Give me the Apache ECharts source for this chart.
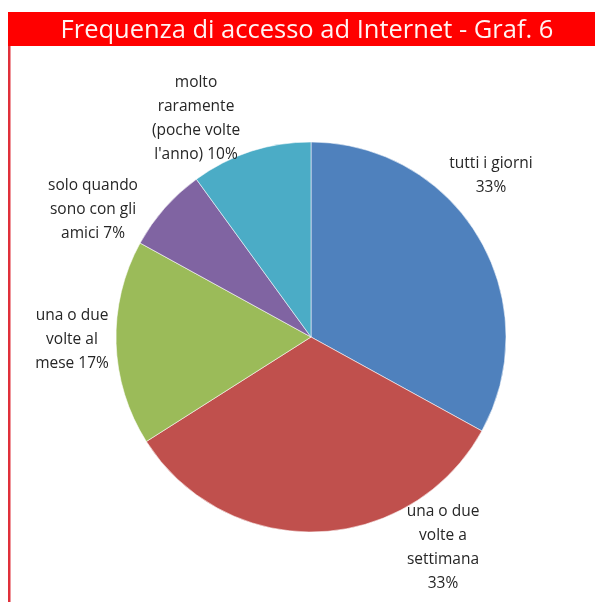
<!DOCTYPE html>
<html>
<head>
<meta charset="utf-8">
<script src="https://cdn.jsdelivr.net/npm/echarts@6/dist/echarts.min.js"></script>
<style>
  html, body { margin: 0; padding: 0; background: #fff; }
  #chart { width: 595px; height: 602px; }
</style>
</head>
<body>
<div id="chart"></div>
<script>
// Categories (line breaks follow the wrapped labels) and their shares in percent
const categories = [
  'tutti i giorni',
  'una o due\nvolte a\nsettimana',
  'una o due\nvolte al\nmese',
  'solo quando\nsono con gli\namici',
  'molto\nraramente\n(poche volte\nl\'anno)'
];
const values = [33, 33, 17, 7, 10];
const colors = ['#4F81BD', '#C0504D', '#9BBB59', '#8064A2', '#4BACC6'];

// Where each slice label sits (centre of the text block)
const labelAnchors = [
  [491, 176],
  [443, 548],
  [72, 340],
  [93, 210],
  [196, 119]
];

const chart = echarts.init(document.getElementById('chart'), null, { renderer: 'canvas' });

chart.setOption({
  animation: false,
  backgroundColor: '#ffffff',
  title: {
    text: 'Frequenza di accesso ad Internet - Graf. 6',
    left: 302,
    top: 13,
    textAlign: 'center',
    textStyle: {
      color: '#fff4f2',
      fontFamily: 'Open Sans',
      fontWeight: 'normal',
      fontSize: 25.5
    }
  },
  graphic: [
    { type: 'rect', z: -1, shape: { x: 8, y: 12, width: 587, height: 34 }, style: { fill: '#ff0000' } },
    { type: 'rect', z: -1, shape: { x: 8, y: 46, width: 2.5, height: 560 }, style: { fill: '#e0303a' } }
  ],
  series: [{
    type: 'pie',
    center: [311, 337],
    radius: 195,
    startAngle: 90,
    clockwise: true,
    data: categories.map((name, i) => ({
      name: name,
      value: values[i],
      itemStyle: { color: colors[i] }
    })),
    itemStyle: { borderColor: 'rgba(255,255,255,0.55)', borderWidth: 1 },
    label: {
      show: true,
      position: 'outside',
      formatter: (p) => {
        const lines = p.name.split('\n');
        const pct = p.value + '%';
        // the percentage either joins the last line or takes its own line
        if (p.dataIndex === 0 || p.dataIndex === 1) return p.name + '\n' + pct;
        lines[lines.length - 1] += ' ' + pct;
        return lines.join('\n');
      },
      color: '#262626',
      fontFamily: 'Open Sans',
      fontSize: 15.5,
      lineHeight: 24,
      align: 'center',
      overflow: 'none',
      width: 200
    },
    labelLine: { show: false },
    labelLayout: (params) => ({
      x: labelAnchors[params.dataIndex][0],
      y: labelAnchors[params.dataIndex][1],
      align: 'center',
      verticalAlign: 'middle'
    }),
    emphasis: { disabled: true }
  }]
});
</script>
</body>
</html>
